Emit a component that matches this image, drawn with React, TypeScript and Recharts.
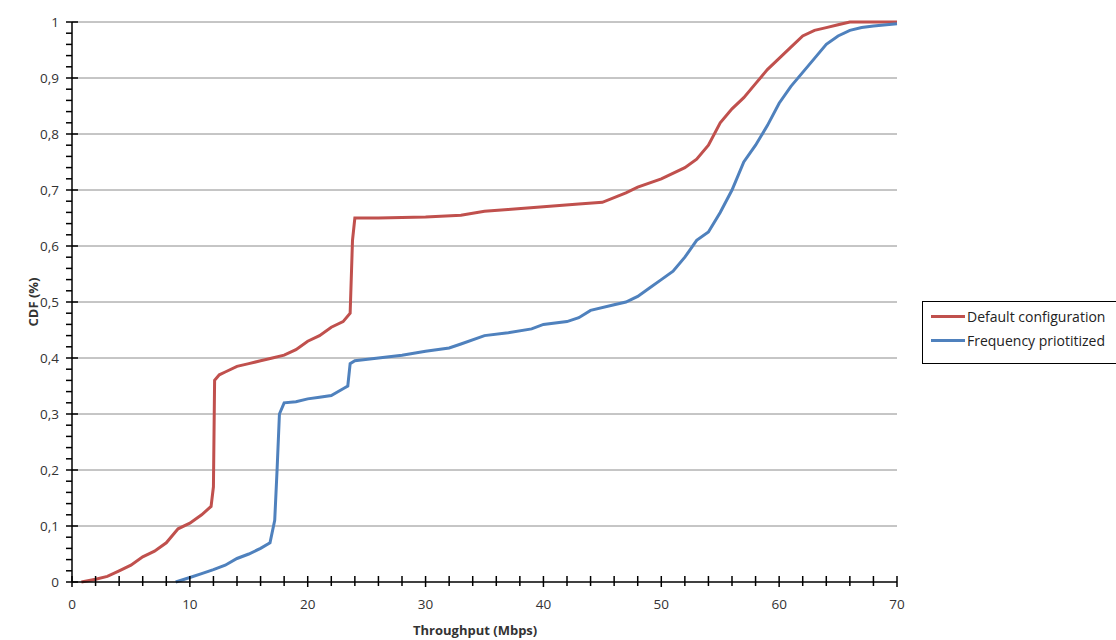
import React from "react";
import { LineChart, Line, XAxis, YAxis, ReferenceLine } from "recharts";

const defaultX = [0.8,2,3,4,5,6,7,8,9,10,11,11.8,12,12.1,12.5,13,14,15,16,17,18,19,20,21,22,23,23.6,23.8,24,26,30,33,35,37,40,43,45,47,48,50,52,53,54,55,56,57,58,59,60,61,62,63,64,65,66,70];
const defaultY = [0,0.005,0.01,0.02,0.03,0.045,0.055,0.07,0.095,0.105,0.12,0.135,0.17,0.36,0.37,0.375,0.385,0.39,0.395,0.4,0.405,0.415,0.43,0.44,0.455,0.465,0.48,0.61,0.65,0.65,0.652,0.655,0.662,0.665,0.67,0.675,0.678,0.695,0.705,0.72,0.74,0.755,0.78,0.82,0.845,0.865,0.89,0.915,0.935,0.955,0.975,0.985,0.99,0.995,1,1];
const freqX = [8.8,10,11,12,13,14,15,16,16.8,17.2,17.4,17.6,18,19,20,21,22,23,23.4,23.6,24,26,28,30,32,33,35,37,39,40,42,43,44,46,47,48,49,50,51,52,53,54,55,56,57,58,59,60,61,62,63,64,65,66,67,68,70];
const freqY = [0,0.008,0.015,0.022,0.03,0.042,0.05,0.06,0.07,0.11,0.2,0.3,0.32,0.322,0.327,0.33,0.333,0.345,0.35,0.39,0.395,0.4,0.405,0.412,0.418,0.425,0.44,0.445,0.452,0.46,0.465,0.472,0.485,0.495,0.5,0.51,0.525,0.54,0.555,0.58,0.61,0.625,0.66,0.7,0.75,0.78,0.815,0.855,0.885,0.91,0.935,0.96,0.975,0.985,0.99,0.993,0.997];

const xTicks = Array.from({ length: 36 }, (_, i) => i * 2);
const yTicks = Array.from({ length: 51 }, (_, i) => Math.round(i * 2) / 100);
const yGrid = [0.1,0.2,0.3,0.4,0.5,0.6,0.7,0.8,0.9,1];

const defaultData = defaultX.map((x, i) => ({ x, y: defaultY[i] }));
const freqData = freqX.map((x, i) => ({ x, y: freqY[i] }));

const FONT = "'Open Sans', 'Liberation Sans', Arial, sans-serif";

const XTick = (p: any) => {
  const v = p.payload.value;
  const major = v % 10 === 0;
  const x = p.x;
  const y0 = 582;
  return (
    <g>
      <line x1={x} x2={x} y1={y0 - 6} y2={y0 + (major ? 5 : 4)} stroke="#000" strokeWidth={1.5} />
      {major && (
        <text x={x} y={y0 + 27} textAnchor="middle" fontSize={13.5} fill="#333" fontFamily={FONT}>{v}</text>
      )}
    </g>
  );
};

const YTick = (p: any) => {
  const v = p.payload.value;
  const r = Math.round(v * 100);
  const major = r % 10 === 0;
  const label = r === 0 ? "0" : r === 100 ? "1" : (r / 100).toFixed(1).replace(".", ",");
  const x0 = 72;
  return (
    <g>
      <line x1={x0 + (major ? 6 : 0)} x2={x0 - 6} y1={p.y} y2={p.y} stroke="#000" strokeWidth={1.5} />
      {major && (
        <text x={x0 - 13} y={p.y + 5} textAnchor="end" fontSize={13.5} fill="#333" fontFamily={FONT}>{label}</text>
      )}
    </g>
  );
};

export default function App() {
  return (
    <div style={{ position: "fixed", left: 0, top: 0, width: 1116, height: 640, background: "#fff", fontFamily: FONT, overflow: "hidden" }}>
      <LineChart width={1116} height={640} margin={{ top: 22, right: 219, bottom: 18, left: 12 }}>
        <XAxis type="number" dataKey="x" domain={[0, 70]} ticks={xTicks} interval={0} height={40} tickLine={false} tick={XTick} axisLine={{ stroke: "#000", strokeWidth: 1.5 }} allowDuplicatedCategory={false} />
        <YAxis type="number" dataKey="y" domain={[0, 1]} ticks={yTicks} interval={0} width={60} tickLine={false} tick={YTick} axisLine={{ stroke: "#000", strokeWidth: 1.5 }} />
        {yGrid.map((g) => (
          <ReferenceLine key={g} y={g} stroke="#8c8c8c" strokeWidth={1} />
        ))}
        <Line data={defaultData} dataKey="y" type="linear" stroke="#C0504D" strokeWidth={3} dot={false} isAnimationActive={false} />
        <Line data={freqData} dataKey="y" type="linear" stroke="#4F81BD" strokeWidth={3} dot={false} isAnimationActive={false} />
      </LineChart>
      <div style={{ position: "absolute", left: 413, top: 622, fontSize: 13, lineHeight: "16px", fontWeight: "bold", color: "#333", whiteSpace: "nowrap" }}>Throughput (Mbps)</div>
      <div style={{ position: "absolute", left: 33, top: 302, fontSize: 13, fontWeight: "bold", color: "#333", whiteSpace: "nowrap", transform: "translate(-50%,-50%) rotate(-90deg)" }}>CDF (%)</div>
      <div style={{ position: "absolute", left: 922, top: 301, width: 200, height: 63, border: "1px solid #000", boxSizing: "border-box", fontSize: 14, color: "#222" }}>
        {[["#C0504D", "Default configuration"], ["#4F81BD", "Frequency priotitized"]].map(([c, t], i) => (
          <div key={t} style={{ position: "absolute", left: 8, top: 5 + i * 24, display: "flex", alignItems: "center", whiteSpace: "nowrap" }}>
            <span style={{ display: "inline-block", width: 34, height: 3, background: c, marginRight: 2 }} />
            <span>{t}</span>
          </div>
        ))}
      </div>
    </div>
  );
}
